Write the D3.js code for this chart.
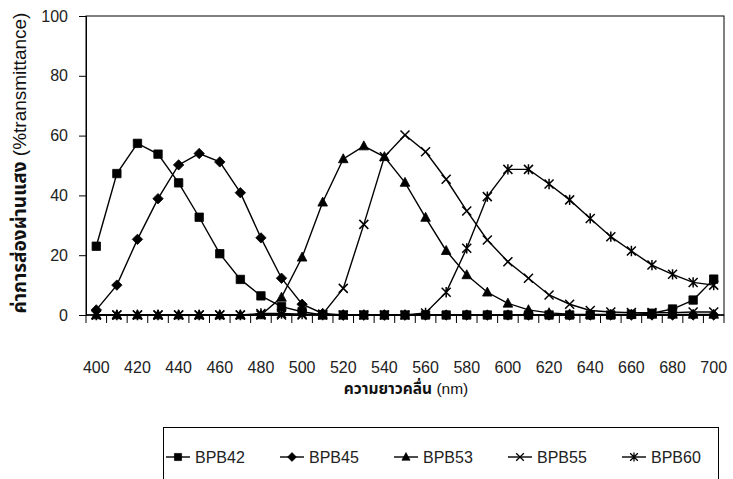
<!DOCTYPE html>
<html>
<head>
<meta charset="utf-8">
<script src="https://cdn.jsdelivr.net/npm/d3@7"></script>
<style>
  body { margin: 0; background: #fff; }
  svg { display: block; font-family: "Liberation Sans", Arial, "Noto Sans Thai", "Loma", sans-serif; }
  .tick text, .lbl { fill: #222; font-size: 16px; }
  .axis-title { fill: #111; font-size: 15.5px; }
</style>
</head>
<body>
<svg width="733" height="479"></svg>
<script>
//wavelengths (nm)
var wavelength = [400, 410, 420, 430, 440, 450, 460, 470, 480, 490, 500,
    510, 520, 530, 540, 550, 560, 570, 580, 590, 600,
    610, 620, 630, 640, 650, 660, 670, 680, 690, 700];

//% transmittance per sample
var bpb42 = [23, 47.3, 57.4, 53.8, 44.2, 32.7, 20.5, 11.9, 6.4, 2.8, 1.1,
    0, 0, 0, 0, 0, 0, 0, 0, 0, 0,
    0, 0, 0, 0, 0, 0.2, 0.6, 2, 5, 12];
var bpb45 = [1.7, 10, 25.3, 38.9, 50.2, 54, 51.2, 40.9, 25.8, 12.3, 3.6,
    0.5, 0, 0, 0, 0, 0, 0, 0, 0, 0,
    0, 0, 0, 0, 0, 0, 0, 0, 0, 0];
var bpb53 = [0, 0, 0, 0, 0, 0, 0, 0, 0, 5.9, 19.3,
    37.7, 52.2, 56.5, 52.9, 44.3, 32.6, 21.5, 13.4, 7.6, 3.9,
    1.7, 0.7, 0.3, 0.2, 0.2, 0.2, 0.2, 0.2, 0.2, 0.2];
var bpb55 = [0, 0, 0, 0, 0, 0, 0, 0, 0, 0, 0,
    0.3, 8.9, 30.3, 52.9, 60.2, 54.6, 45.4, 34.8, 25.1, 17.8,
    12.3, 6.7, 3.6, 1.5, 1, 0.8, 0.8, 0.8, 1, 1];
var bpb60 = [0, 0, 0, 0, 0, 0, 0, 0, 0.5, 0.5, 0.3,
    0, 0, 0, 0, 0, 0.7, 7.6, 22.3, 39.6, 48.7,
    48.7, 43.8, 38.5, 32.3, 26.2, 21.4, 16.7, 13.6, 10.9, 10];

var seriesNames = ["BPB42", "BPB45", "BPB53", "BPB55", "BPB60"];
var markerTypes = ["square", "diamond", "triangle", "times", "star"];

var yTicks = [0, 20, 40, 60, 80, 100];
var xTickLabels = [400, 420, 440, 460, 480, 500, 520, 540, 560, 580, 600, 620, 640, 660, 680, 700];

var series = [bpb42, bpb45, bpb53, bpb55, bpb60].map(function (vals, i) {
    return { name: seriesNames[i], marker: markerTypes[i], values: vals };
});

//plot box
var svg = d3.select("svg"),
    plot = { left: 86, right: 724, top: 16, bottom: 315 };

var scaleX = d3.scaleBand()
    .domain(wavelength)
    .range([plot.left, plot.right]);
var scaleY = d3.scaleLinear()
    .domain([0, 100])
    .range([plot.bottom, plot.top]);

function cx(w) {
    return scaleX(w) + scaleX.bandwidth() / 2;
}

//marker shapes
function markerPath(type) {
    var s;
    switch (type) {
        case "square":
            s = 4.2;
            return "M" + -s + "," + -s + "H" + s + "V" + s + "H" + -s + "Z";
        case "diamond":
            s = 5.2;
            return "M0," + -s + "L" + s + ",0L0," + s + "L" + -s + ",0Z";
        case "triangle":
            return "M0,-5.2L4.8,3.8L-4.8,3.8Z";
        case "times":
            s = 4.5;
            return "M" + -s + "," + -s + "L" + s + "," + s + "M" + s + "," + -s + "L" + -s + "," + s;
        case "star":
            s = 4.5;
            return "M" + -s + "," + -s + "L" + s + "," + s + "M" + s + "," + -s + "L" + -s + "," + s +
                "M0," + -s * 1.15 + "L0," + s * 1.15;
    }
}
function isStroked(type) {
    return type === "times" || type === "star";
}

function drawMarker(g, type) {
    g.append("path")
        .attr("d", markerPath(type))
        .attr("fill", isStroked(type) ? "none" : "#000")
        .attr("stroke", "#000")
        .attr("stroke-width", isStroked(type) ? 1.5 : 0.8);
}

//plot border
svg.append("rect")
    .attr("x", plot.left)
    .attr("y", plot.top)
    .attr("width", plot.right - plot.left)
    .attr("height", plot.bottom - plot.top)
    .attr("fill", "none")
    .attr("stroke", "#000")
    .attr("stroke-width", 1);

//y axis
var gAxisY = svg.append("g")
    .attr("transform", "translate(" + plot.left + ",0)")
    .call(d3.axisLeft(scaleY).tickValues(yTicks).tickSize(7).tickPadding(11));
gAxisY.select(".domain").attr("stroke", "#000");
gAxisY.selectAll(".tick line").attr("stroke", "#000");
gAxisY.selectAll(".tick text").attr("font-family", null).attr("font-size", null);

//x axis: ticks between categories, labels every other category
var gAxisX = svg.append("g")
    .attr("transform", "translate(0," + plot.bottom + ")");
gAxisX.append("line")
    .attr("x1", plot.left).attr("x2", plot.right)
    .attr("stroke", "#000").attr("stroke-width", 1.5);
var bounds = wavelength.map(function (w) { return scaleX(w); }).concat([plot.right]);
gAxisX.selectAll("line.tk")
    .data(bounds)
    .enter().append("line")
    .attr("class", "tk")
    .attr("x1", function (d) { return d; })
    .attr("x2", function (d) { return d; })
    .attr("y1", 0)
    .attr("y2", 8)
    .attr("stroke", "#000");
gAxisX.selectAll("text")
    .data(xTickLabels)
    .enter().append("text")
    .attr("class", "lbl")
    .attr("x", function (d) { return cx(d); })
    .attr("y", 58)
    .attr("text-anchor", "middle")
    .text(function (d) { return d; });

//series lines and markers
var line = d3.line()
    .x(function (d, i) { return cx(wavelength[i]); })
    .y(function (d) { return scaleY(d); });

var gSeries = svg.append("g");
series.forEach(function (s) {
    gSeries.append("path")
        .attr("d", line(s.values))
        .attr("fill", "none")
        .attr("stroke", "#000")
        .attr("stroke-width", 1.4);
});
series.forEach(function (s) {
    s.values.forEach(function (v, i) {
        var g = gSeries.append("g")
            .attr("transform", "translate(" + cx(wavelength[i]) + "," + scaleY(v) + ")");
        drawMarker(g, s.marker);
    });
});

//axis titles
var yTitle = svg.append("text")
    .attr("class", "axis-title")
    .attr("transform", "translate(26,163) rotate(-90)")
    .attr("text-anchor", "middle")
    .style("font-size", "19px");
yTitle.append("tspan").attr("font-weight", "bold").text("ค่าการส่องผ่านแสง ");
yTitle.append("tspan").text("(%transmittance)");

var xTitle = svg.append("text")
    .attr("class", "axis-title")
    .attr("x", 406)
    .attr("y", 394)
    .attr("text-anchor", "middle");
xTitle.append("tspan").attr("font-weight", "bold").text("ความยาวคลื่น ");
xTitle.append("tspan").text("(nm)");

//legend
var legend = svg.append("g");
legend.append("rect")
    .attr("x", 163.5)
    .attr("y", 427.5)
    .attr("width", 555)
    .attr("height", 70)
    .attr("fill", "#fff")
    .attr("stroke", "#000");
series.forEach(function (s, i) {
    var x0 = 166 + i * 114,
        g = legend.append("g").attr("transform", "translate(" + x0 + ",457)");
    g.append("line")
        .attr("x1", 0).attr("x2", 24)
        .attr("stroke", "#000").attr("stroke-width", 1.4);
    drawMarker(g.append("g").attr("transform", "translate(12,0) scale(0.85)"), s.marker);
    g.append("text")
        .attr("class", "lbl")
        .attr("x", 29)
        .attr("y", 6)
        .text(s.name);
});
</script>
</body>
</html>
